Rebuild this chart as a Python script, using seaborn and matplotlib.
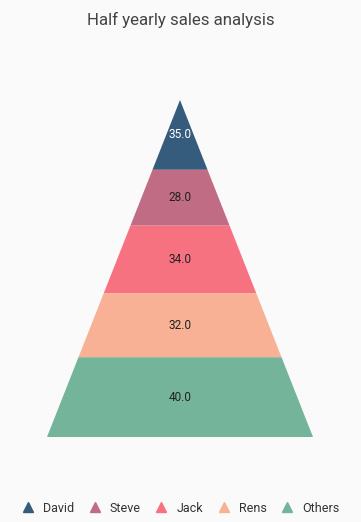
import numpy as np
import matplotlib
matplotlib.use('Agg')
import matplotlib.pyplot as plt
import seaborn as sns
from matplotlib.lines import Line2D

# data
names = ['David', 'Steve', 'Jack', 'Rens', 'Others']
sales = [35, 28, 34, 32, 40]
colors = ['#355C7D', '#C06C84', '#F67280', '#F8B195', '#74B49B']
label_colors = ['white', '#222222', '#222222', '#222222', '#222222']

sns.set_theme(style='white')
plt.rcParams['font.family'] = ['Roboto', 'DejaVu Sans']

fig = plt.figure(figsize=(3.61, 5.22), dpi=100, facecolor='#FAFAFA')
ax = fig.add_axes([47 / 361, 85 / 522, 266 / 361, 337 / 522])
ax.set_facecolor('#FAFAFA')

total = sum(sales)
top = 0
for name, val, col, lc in zip(names, sales, colors, label_colors):
    bot = top + val
    wt = top / total
    wb = bot / total
    ax.fill([-wt, wt, wb, -wb], [top, top, bot, bot], color=col, lw=0)
    ax.text(0, (top + bot) / 2, f'{val:.1f}', ha='center', va='center',
            fontsize=8.5, color=lc)
    top = bot

ax.set_xlim(-1, 1)
ax.set_ylim(total, 0)
ax.axis('off')

fig.text(0.5, 1 - 20 / 522, 'Half yearly sales analysis', ha='center',
         va='center', fontsize=12.2, color='#444444')

handles = [Line2D([], [], marker='^', linestyle='', color=c, markersize=7.5)
           for c in colors]
fig.legend(handles, names, loc='center', bbox_to_anchor=(0.5, 1 - 508 / 522),
           ncol=5, frameon=False, fontsize=9, handletextpad=0.7,
           columnspacing=1.15, handlelength=1.0, labelcolor='#333333')

fig.savefig('out.png', dpi=100, facecolor=fig.get_facecolor())
